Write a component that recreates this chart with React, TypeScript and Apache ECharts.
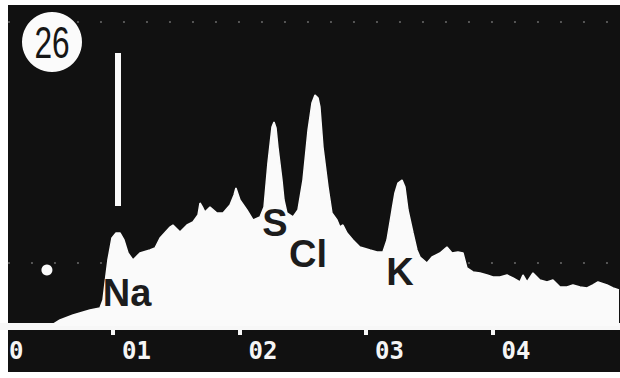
import React, { useEffect, useRef } from "react";
import * as echarts from "echarts";

// Energy (keV) of each sampled point of the spectrum outline
const energies: number[] = [
  0.518, 0.581, 0.684, 0.818, 0.897, 0.921, 0.937, 0.96, 0.992, 1.024, 1.055, 1.087,
  1.119, 1.158, 1.213, 1.292, 1.332, 1.372, 1.451, 1.474, 1.53, 1.585, 1.632, 1.672,
  1.688, 1.711, 1.727, 1.767, 1.822, 1.87, 1.925, 1.957, 1.972, 2.004, 2.059, 2.107,
  2.162, 2.194, 2.225, 2.257, 2.273, 2.289, 2.304, 2.336, 2.352, 2.375, 2.423, 2.462,
  2.502, 2.542, 2.573, 2.597, 2.621, 2.636, 2.66, 2.7, 2.731, 2.771, 2.794, 2.818,
  2.85, 2.897, 2.952, 3.032, 3.087, 3.134, 3.166, 3.206, 3.229, 3.253, 3.285, 3.308,
  3.332, 3.372, 3.403, 3.427, 3.482, 3.522, 3.585, 3.64, 3.68, 3.727, 3.767, 3.798,
  3.846, 3.901, 3.957, 4.004, 4.059, 4.115, 4.162, 4.217, 4.241, 4.273, 4.32, 4.375,
  4.431, 4.478, 4.534, 4.589, 4.636, 4.692, 4.747, 4.794, 4.834, 4.905, 4.953, 5.0,
];
// Counts (arbitrary units) at those energies
const counts: number[] = [
  1, 6, 11, 16, 18, 26, 43, 66, 88, 93, 93, 86,
  73, 66, 73, 76, 78, 88, 99, 101, 94, 101, 104, 111,
  123, 118, 114, 119, 113, 113, 121, 131, 138, 126, 116, 106,
  109, 119, 163, 199, 204, 198, 179, 146, 126, 113, 109, 116,
  146, 196, 223, 231, 228, 219, 179, 139, 113, 106, 99, 101,
  93, 86, 79, 76, 74, 74, 86, 116, 133, 143, 146, 139,
  116, 93, 76, 69, 63, 69, 73, 79, 73, 74, 73, 58,
  54, 53, 51, 49, 49, 51, 48, 44, 51, 44, 53, 46,
  44, 46, 39, 39, 41, 39, 38, 41, 44, 41, 38, 36,
];

// Axis range (keV) and tick values; the "0" label sits at the left edge
const axisMin = 0.107;
const axisMax = 5.008;
const tickValues: number[] = [1, 2, 3, 4];
const zeroLabel = "0";

// Element labels
const elementNames: string[] = ["Na", "S", "Cl", "K"];
const elementEnergies: number[] = [1.111, 2.281, 2.542, 3.269];
const elementCounts: number[] = [33, 103, 72, 54];

// Na marker bar
const markerEnergy = 1.035;
const markerFrom = 120;
const markerTo = 273;

// isolated dot
const dotPoint: [number, number] = [0.478, 56];

// faint dotted reference rows
const dottedRows: number[] = [63, 304];

const panelNumber = "26";

export default function App() {
  const ref = useRef<HTMLDivElement>(null);
  useEffect(() => {
    if (!ref.current) return;
    const chart = echarts.init(ref.current, undefined, { renderer: "svg" });
    const spectrum = energies.map((e, i) => [e, counts[i]]);
    const labelsData = elementNames.map((n, i) => ({
      name: n,
      value: [elementEnergies[i], elementCounts[i]],
    }));
    const option: any = {
      animation: false,
      backgroundColor: "#ffffff",
      grid: { left: 0, right: 0, top: 5, bottom: 52 },
      xAxis: {
        type: "value",
        min: axisMin,
        max: axisMax,
        splitLine: { show: false },
        axisLine: { show: true, lineStyle: { color: "#f7f7f7", width: 7 } },
        axisTick: {
          show: true,
          inside: false,
          length: 9,
          lineStyle: { color: "#f7f7f7", width: 4 },
          customValues: tickValues,
        },
        axisLabel: {
          show: true,
          customValues: [axisMin, ...tickValues],
          margin: 13,
          align: "left",
          verticalAlign: "top",
          formatter: (v: number) =>
            v < 0.5 ? "{z|" + zeroLabel + "}" : "{n|0" + v + "}",
          rich: {
            z: {
              color: "#f5f5f5",
              fontFamily: "'DejaVu Sans Mono', monospace",
              fontWeight: "bold",
              fontSize: 24,
              padding: [0, 0, 0, 9],
            },
            n: {
              color: "#f5f5f5",
              fontFamily: "'DejaVu Sans Mono', monospace",
              fontWeight: "bold",
              fontSize: 24,
              padding: [0, 0, 0, 9],
            },
          },
        },
      },
      yAxis: {
        type: "value",
        min: 0,
        max: 321,
        show: false,
        splitLine: { show: false },
      },
      graphic: [
        {
          type: "rect",
          z: -10,
          silent: true,
          shape: { x: 8, y: 5, width: 612, height: 367 },
          style: { fill: "#111111" },
        },
        {
          type: "circle",
          z: 100,
          shape: { cx: 52, cy: 42, r: 30 },
          style: { fill: "#fbfbfb" },
        },
        {
          type: "text",
          z: 101,
          x: 52,
          y: 43,
          scaleX: 0.72,
          style: {
            text: panelNumber,
            fill: "#161616",
            font: "44px 'Liberation Sans', Arial, sans-serif",
            align: "center",
            verticalAlign: "middle",
          },
        },
      ],
      series: [
        ...dottedRows.map((r) => ({
          type: "line",
          z: 1,
          silent: true,
          showSymbol: false,
          data: [
            [0.17, r],
            [axisMax, r],
          ],
          lineStyle: { color: "#555555", width: 2, type: [2, 21] },
        })),
        {
          type: "line",
          z: 3,
          data: spectrum,
          showSymbol: false,
          silent: true,
          lineStyle: { color: "#fafafa", width: 1.5 },
          areaStyle: { color: "#fafafa", opacity: 1 },
          markLine: {
            silent: true,
            symbol: ["none", "none"],
            label: { show: false },
            lineStyle: { color: "#fafafa", width: 6, type: "solid", opacity: 1 },
            data: [
              [
                { coord: [markerEnergy, markerFrom] },
                { coord: [markerEnergy, markerTo] },
              ],
            ],
          },
        },
        {
          type: "scatter",
          z: 4,
          silent: true,
          data: [dotPoint],
          symbolSize: 11,
          itemStyle: { color: "#fafafa", opacity: 1 },
        },
        {
          type: "scatter",
          z: 5,
          silent: true,
          data: labelsData,
          symbolSize: 1,
          itemStyle: { color: "rgba(0,0,0,0)", opacity: 1 },
          label: {
            show: true,
            position: "inside",
            formatter: (p: any) => p.name,
            color: "#1c1c1c",
            opacity: 1,
            textBorderWidth: 0,
            fontFamily: "'Liberation Sans', Arial, sans-serif",
            fontWeight: "bold",
            fontSize: 38,
          },
        },
      ],
    };
    chart.setOption(option);
    return () => chart.dispose();
  }, []);
  return (
    <div
      style={{ position: "fixed", left: 0, top: 0, width: 620, height: 378, background: "#ffffff" }}
    >
      <div ref={ref} style={{ width: 620, height: 378 }} />
    </div>
  );
}
